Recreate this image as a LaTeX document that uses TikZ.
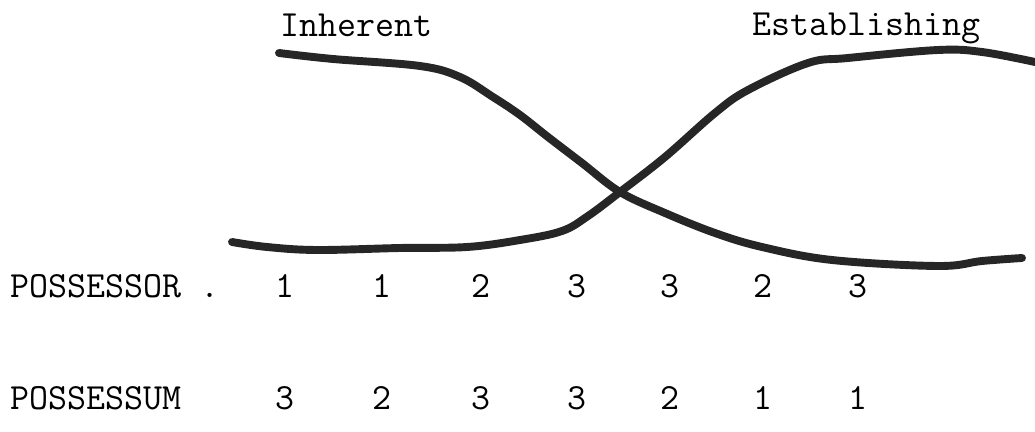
\documentclass[tikz,border=0pt]{standalone}
\usepackage{fontspec}

\begin{document}
\begin{tikzpicture}[x=0.02cm, y=-0.02cm,
    role label/.style={font=\ttfamily\fontsize{21}{21}\selectfont, inner sep=0pt, anchor=west},
    rank/.style={font=\ttfamily\fontsize{21}{21}\selectfont, inner sep=0pt},
    strand/.style={line width=4.5pt, black!85, line cap=round, line join=round}]

  \useasboundingbox (0,0) rectangle (1035,432);

  % === Headings over the two strands ===
  \node[role label] (inherent) at (280,25) {Inherent};
  \node[role label] (establishing) at (752,28) {Establishing};

  % === Inherent strand: high on the left, falling to the right ===
  \draw[strand] plot[smooth, tension=0.6] coordinates {
    (279,53) (333,59) (420,66) (460,77) (493,97) (520,115) (548,137)
    (582,163) (620,192) (665,213) (715,233) (762,247) (832,260)
    (938,266) (982,261) (1022,258)};

  % === Establishing strand: low on the left, rising to the right ===
  \draw[strand] plot[smooth, tension=0.6] coordinates {
    (232,242) (267,247) (317,250) (400,248) (467,247) (520,240)
    (562,231) (588,216) (620,192) (665,157) (715,113) (748,90)
    (808,63) (848,58) (938,50) (982,52) (1035,62)};

  % === Rows of rankings ===
  \node[role label] (possessor) at (10,286) {POSSESSOR .};
  \node[role label] (possessum) at (10,398) {POSSESSUM};

  \foreach \x/\r/\s [count=\i] in {285/1/3, 382/1/2, 481/2/3, 577/3/3,
                                   670/3/2, 763/2/1, 858/3/1} {
    \node[rank] (or\i) at (\x,286) {\r};
    \node[rank] (um\i) at (\x,398) {\s};
  }

\end{tikzpicture}
\end{document}
